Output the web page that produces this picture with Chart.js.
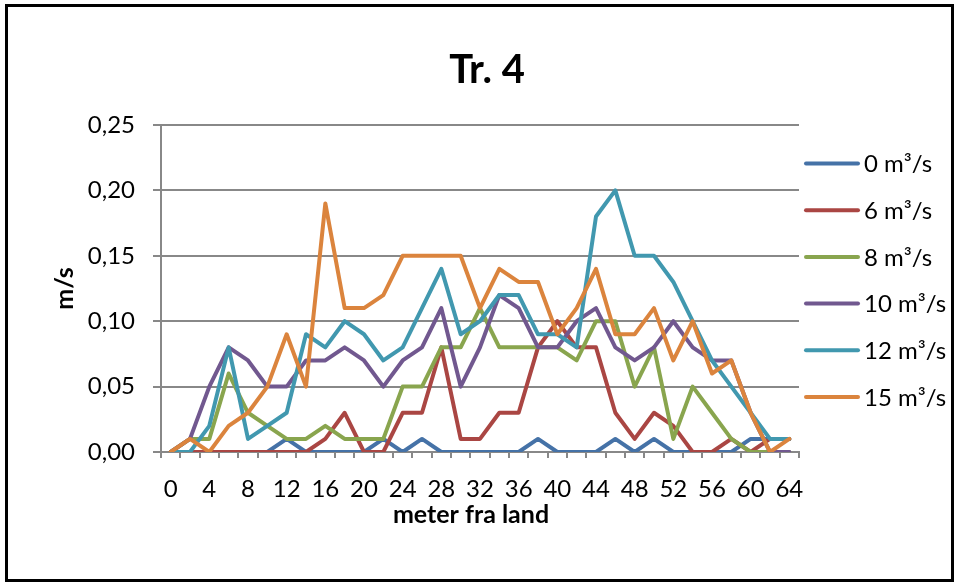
<!DOCTYPE html>
<html>
<head>
<meta charset="utf-8">
<title>Tr. 4</title>
<script src="https://cdn.jsdelivr.net/npm/chart.js@4.4.1/dist/chart.umd.min.js"></script>
<style>
  html, body { margin: 0; padding: 0; background: #ffffff; }
  #wrap { width: 960px; height: 584px; position: relative; }
</style>
</head>
<body>
<div id="wrap"><canvas id="chart" width="960" height="584"></canvas></div>
<script>
// Distance from the bank (m), one category every 2 m
const distances = ['0','2','4','6','8','10','12','14','16','18','20','22','24','26','28','30',
  '32','34','36','38','40','42','44','46','48','50','52','54','56','58','60','62','64'];

// Flow velocity (m/s) at each distance, per discharge
const q0  = [0,0,0,0,0,0,0.01,0,0,0,0,0.01,0,0.01,0,0,0,0,0,0.01,0,0,0,0.01,0,0.01,0,0,0,0,0.01,0.01,0.01];
const q6  = [0,0,0,0,0,0,0,0,0.01,0.03,0,0,0.03,0.03,0.08,0.01,0.01,0.03,0.03,0.08,0.10,0.08,0.08,0.03,0.01,0.03,0.02,0,0,0.01,0,0.01,0.01];
const q8  = [0,0.01,0.01,0.06,0.03,0.02,0.01,0.01,0.02,0.01,0.01,0.01,0.05,0.05,0.08,0.08,0.11,0.08,0.08,0.08,0.08,0.07,0.10,0.10,0.05,0.08,0.01,0.05,0.03,0.01,0,0,0];
const q10 = [0,0.01,0.05,0.08,0.07,0.05,0.05,0.07,0.07,0.08,0.07,0.05,0.07,0.08,0.11,0.05,0.08,0.12,0.11,0.08,0.08,0.10,0.11,0.08,0.07,0.08,0.10,0.08,0.07,0.07,0.03,0,0];
const q12 = [0,0,0.02,0.08,0.01,0.02,0.03,0.09,0.08,0.10,0.09,0.07,0.08,0.11,0.14,0.09,0.10,0.12,0.12,0.09,0.09,0.08,0.18,0.20,0.15,0.15,0.13,0.10,0.07,0.05,0.03,0.01,0.01];
const q15 = [0,0.01,0,0.02,0.03,0.05,0.09,0.05,0.19,0.11,0.11,0.12,0.15,0.15,0.15,0.15,0.11,0.14,0.13,0.13,0.09,0.11,0.14,0.09,0.09,0.11,0.07,0.10,0.06,0.07,0.03,0,0.01];

const seriesNames = ['0 m³/s','6 m³/s','8 m³/s','10 m³/s','12 m³/s','15 m³/s'];
const yTickLabels = ['0,00','0,05','0,10','0,15','0,20','0,25'];

const FONT = 'Lato, "Open Sans", sans-serif';
const GRID = '#888888';
const colors = ['#4572A7','#AA4643','#89A54E','#71588F','#4198AF','#DB843D'];
const values = [q0, q6, q8, q10, q12, q15];

// White page and the black frame round the whole chart
const frame = {
  id: 'frame',
  beforeDraw(chart) {
    const ctx = chart.ctx;
    ctx.save();
    ctx.fillStyle = '#ffffff';
    ctx.fillRect(0, 0, chart.width, chart.height);
    ctx.restore();
  },
  afterDraw(chart) {
    const ctx = chart.ctx;
    ctx.save();
    ctx.strokeStyle = '#000000';
    ctx.lineWidth = 3;
    ctx.strokeRect(6.5, 5.5, 946, 575);
    ctx.restore();
  }
};

// Chart heading and the distance-axis caption
const captions = {
  id: 'captions',
  afterDraw(chart) {
    const ctx = chart.ctx;
    ctx.save();
    ctx.fillStyle = '#000000';
    ctx.textAlign = 'center';
    ctx.textBaseline = 'middle';
    ctx.font = 'bold 40px ' + FONT;
    ctx.fillText('Tr. 4', 487, 70);
    ctx.font = 'bold 25px ' + FONT;
    ctx.fillText('meter fra land', 471, 515);
    ctx.restore();
  }
};

// Series key on the right: a short line in the series colour and its name
const seriesKey = {
  id: 'seriesKey',
  afterDraw(chart) {
    const ctx = chart.ctx;
    const area = chart.chartArea;
    ctx.save();
    ctx.font = '24px ' + FONT;
    ctx.textBaseline = 'middle';
    ctx.textAlign = 'left';
    chart.data.datasets.forEach((ds, i) => {
      const y = 163.5 + i * 46.7;
      const x0 = area.right + 7;
      ctx.strokeStyle = ds.borderColor;
      ctx.lineWidth = 4;
      ctx.lineCap = 'round';
      ctx.beginPath();
      ctx.moveTo(x0, y);
      ctx.lineTo(x0 + 52, y);
      ctx.stroke();
      ctx.fillStyle = '#000000';
      ctx.fillText(ds.label, x0 + 58, y + 1);
    });
    ctx.restore();
  }
};

new Chart(document.getElementById('chart'), {
  type: 'line',
  data: {
    labels: distances,
    datasets: values.map((v, i) => ({
      label: seriesNames[i],
      data: v,
      borderColor: colors[i],
      backgroundColor: colors[i],
      borderWidth: 4,
      borderJoinStyle: 'round',
      borderCapStyle: 'round',
      pointRadius: 0,
      pointHoverRadius: 0,
      tension: 0,
      fill: false,
      order: values.length - i
    }))
  },
  options: {
    responsive: false,
    devicePixelRatio: 1,
    animation: false,
    layout: { padding: { top: 125, right: 161, bottom: 0, left: 0 } },
    plugins: {
      legend: { display: false },
      title: { display: false },
      tooltip: { enabled: false }
    },
    scales: {
      x: {
        type: 'category',
        offset: true,
        grid: { display: true, drawOnChartArea: false, drawTicks: true, tickLength: 6, offset: true, color: GRID, lineWidth: 2 },
        border: { display: true, color: GRID, width: 2 },
        ticks: {
          autoSkip: false, maxRotation: 0, minRotation: 0, padding: 17,
          color: '#000000', font: { family: FONT, size: 24 },
          callback: (v, i) => (i % 2 === 0 ? distances[i] : '')
        },
        title: { display: false },
        afterFit: s => { s.height = 132; }
      },
      y: {
        min: 0, max: 0.25,
        grid: { color: GRID, lineWidth: 2, tickLength: 8 },
        border: { display: true, color: GRID, width: 2 },
        ticks: {
          stepSize: 0.05, padding: 18, color: '#000000',
          font: { family: FONT, size: 24 },
          callback: (v, i) => yTickLabels[i]
        },
        title: {
          display: true, text: 'm/s', color: '#000000',
          font: { family: FONT, size: 25, weight: 'bold' },
          padding: { top: 50, bottom: 0 }
        },
        afterFit: s => { s.width = 161; }
      }
    }
  },
  plugins: [frame, captions, seriesKey]
});
</script>
</body>
</html>
